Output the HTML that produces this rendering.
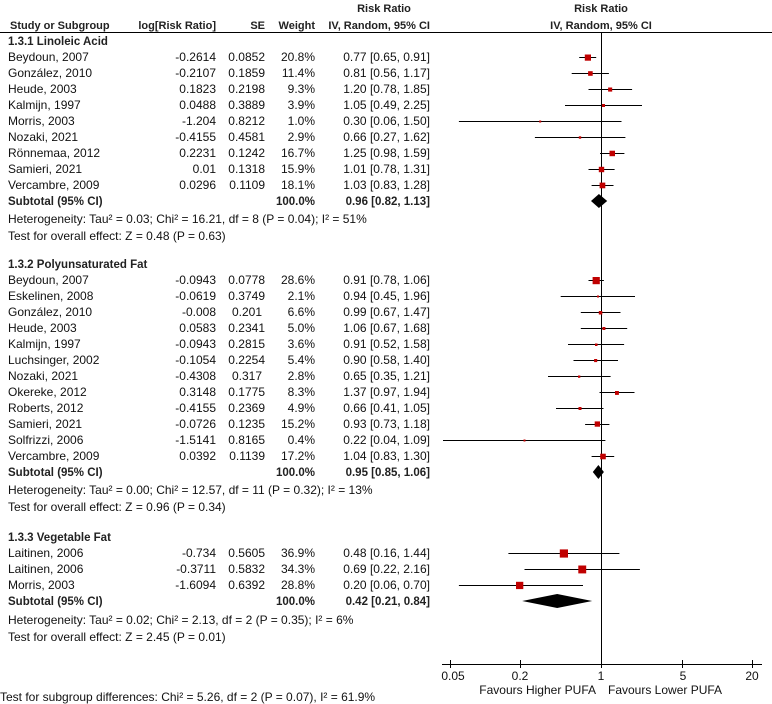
<!DOCTYPE html>
<html><head><meta charset="utf-8"><style>
html,body{margin:0;padding:0;background:#fff;}
svg{display:block;}
text{font-family:"Liberation Sans",Arial,sans-serif;font-size:12px;fill:#111;}
.b{font-weight:bold;fill:#222;font-size:11.5px;}
.h{font-size:11px;}
.r{text-anchor:end;}
.c{text-anchor:middle;}
</style></head><body>
<svg width="772" height="704" viewBox="0 0 772 704" xmlns="http://www.w3.org/2000/svg">
<!-- headers -->
<text class="b h c" x="384" y="12">Risk Ratio</text>
<text class="b h" x="10" y="29">Study or Subgroup</text>
<text class="b h r" x="216" y="29">log[Risk Ratio]</text>
<text class="b h r" x="265" y="29">SE</text>
<text class="b h r" x="315" y="29">Weight</text>
<text class="b h r" x="430" y="29">IV, Random, 95% CI</text>
<text class="b h c" x="601" y="12">Risk Ratio</text>
<text class="b h c" x="601" y="29">IV, Random, 95% CI</text>
<line x1="0" y1="32.5" x2="772" y2="32.5" stroke="#000" stroke-width="1"/>
<line x1="601.5" y1="33" x2="601.5" y2="664" stroke="#000" stroke-width="1"/>

<!-- group 1 -->
<text class="b" x="8" y="45">1.3.1 Linoleic Acid</text>
<g id="g1">
<text x="8" y="61">Beydoun, 2007</text><text class="r" x="216" y="61">-0.2614</text><text class="r" x="265" y="61">0.0852</text><text class="r" x="315" y="61">20.8%</text><text class="r" x="430" y="61">0.77 [0.65, 0.91]</text>
<text x="8" y="77">González, 2010</text><text class="r" x="216" y="77">-0.2107</text><text class="r" x="265" y="77">0.1859</text><text class="r" x="315" y="77">11.4%</text><text class="r" x="430" y="77">0.81 [0.56, 1.17]</text>
<text x="8" y="93">Heude, 2003</text><text class="r" x="216" y="93">0.1823</text><text class="r" x="265" y="93">0.2198</text><text class="r" x="315" y="93">9.3%</text><text class="r" x="430" y="93">1.20 [0.78, 1.85]</text>
<text x="8" y="109">Kalmijn, 1997</text><text class="r" x="216" y="109">0.0488</text><text class="r" x="265" y="109">0.3889</text><text class="r" x="315" y="109">3.9%</text><text class="r" x="430" y="109">1.05 [0.49, 2.25]</text>
<text x="8" y="125">Morris, 2003</text><text class="r" x="216" y="125">-1.204</text><text class="r" x="265" y="125">0.8212</text><text class="r" x="315" y="125">1.0%</text><text class="r" x="430" y="125">0.30 [0.06, 1.50]</text>
<text x="8" y="141">Nozaki, 2021</text><text class="r" x="216" y="141">-0.4155</text><text class="r" x="265" y="141">0.4581</text><text class="r" x="315" y="141">2.9%</text><text class="r" x="430" y="141">0.66 [0.27, 1.62]</text>
<text x="8" y="157">Rönnemaa, 2012</text><text class="r" x="216" y="157">0.2231</text><text class="r" x="265" y="157">0.1242</text><text class="r" x="315" y="157">16.7%</text><text class="r" x="430" y="157">1.25 [0.98, 1.59]</text>
<text x="8" y="173">Samieri, 2021</text><text class="r" x="216" y="173">0.01</text><text class="r" x="265" y="173">0.1318</text><text class="r" x="315" y="173">15.9%</text><text class="r" x="430" y="173">1.01 [0.78, 1.31]</text>
<text x="8" y="189">Vercambre, 2009</text><text class="r" x="216" y="189">0.0296</text><text class="r" x="265" y="189">0.1109</text><text class="r" x="315" y="189">18.1%</text><text class="r" x="430" y="189">1.03 [0.83, 1.28]</text>
</g>
<text class="b" x="8" y="205">Subtotal (95% CI)</text><text class="b r" x="315" y="205">100.0%</text><text class="b r" x="430" y="205">0.96 [0.82, 1.13]</text>
<text x="8" y="223">Heterogeneity: Tau² = 0.03; Chi² = 16.21, df = 8 (P = 0.04); I² = 51%</text>
<text x="8" y="240">Test for overall effect: Z = 0.48 (P = 0.63)</text>

<g stroke="#000" stroke-width="1">
<line x1="579.2" y1="57.5" x2="596.2" y2="57.5"/>
<line x1="571.7" y1="73.5" x2="608.9" y2="73.5"/>
<line x1="588.5" y1="89.5" x2="632.1" y2="89.5"/>
<line x1="565" y1="105.5" x2="642" y2="105.5"/>
<line x1="458.9" y1="121.5" x2="621.5" y2="121.5"/>
<line x1="534.9" y1="137.5" x2="625.4" y2="137.5"/>
<line x1="600" y1="153.5" x2="624.4" y2="153.5"/>
<line x1="588.5" y1="169.5" x2="614.6" y2="169.5"/>
<line x1="591.6" y1="185.5" x2="613.5" y2="185.5"/>
</g>
<g fill="#c00000">
<rect x="584.8" y="54.5" width="6.2" height="6.2"/>
<rect x="588.1" y="71.2" width="4.6" height="4.6"/>
<rect x="608.1" y="87.5" width="4.1" height="4.1"/>
<rect x="602" y="104" width="3" height="3"/>
<rect x="539.2" y="120.5" width="2" height="2"/>
<rect x="578.8" y="136.3" width="2.4" height="2.4"/>
<rect x="609.5" y="150.7" width="5.5" height="5.5"/>
<rect x="598.8" y="166.8" width="5.4" height="5.4"/>
<rect x="599.6" y="182.6" width="5.7" height="5.7"/>
</g>
<polygon points="591,201 598.9,194 607.2,201 598.9,208" fill="#000"/>

<!-- group 2 -->
<text class="b" x="8" y="268">1.3.2 Polyunsaturated Fat</text>
<text x="8" y="284">Beydoun, 2007</text><text class="r" x="216" y="284">-0.0943</text><text class="r" x="265" y="284">0.0778</text><text class="r" x="315" y="284">28.6%</text><text class="r" x="430" y="284">0.91 [0.78, 1.06]</text>
<text x="8" y="300">Eskelinen, 2008</text><text class="r" x="216" y="300">-0.0619</text><text class="r" x="265" y="300">0.3749</text><text class="r" x="315" y="300">2.1%</text><text class="r" x="430" y="300">0.94 [0.45, 1.96]</text>
<text x="8" y="316">González, 2010</text><text class="r" x="216" y="316">-0.008</text><text class="r" x="262" y="316">0.201</text><text class="r" x="315" y="316">6.6%</text><text class="r" x="430" y="316">0.99 [0.67, 1.47]</text>
<text x="8" y="332">Heude, 2003</text><text class="r" x="216" y="332">0.0583</text><text class="r" x="265" y="332">0.2341</text><text class="r" x="315" y="332">5.0%</text><text class="r" x="430" y="332">1.06 [0.67, 1.68]</text>
<text x="8" y="348">Kalmijn, 1997</text><text class="r" x="216" y="348">-0.0943</text><text class="r" x="265" y="348">0.2815</text><text class="r" x="315" y="348">3.6%</text><text class="r" x="430" y="348">0.91 [0.52, 1.58]</text>
<text x="8" y="364">Luchsinger, 2002</text><text class="r" x="216" y="364">-0.1054</text><text class="r" x="265" y="364">0.2254</text><text class="r" x="315" y="364">5.4%</text><text class="r" x="430" y="364">0.90 [0.58, 1.40]</text>
<text x="8" y="380">Nozaki, 2021</text><text class="r" x="216" y="380">-0.4308</text><text class="r" x="262" y="380">0.317</text><text class="r" x="315" y="380">2.8%</text><text class="r" x="430" y="380">0.65 [0.35, 1.21]</text>
<text x="8" y="396">Okereke, 2012</text><text class="r" x="216" y="396">0.3148</text><text class="r" x="265" y="396">0.1775</text><text class="r" x="315" y="396">8.3%</text><text class="r" x="430" y="396">1.37 [0.97, 1.94]</text>
<text x="8" y="412">Roberts, 2012</text><text class="r" x="216" y="412">-0.4155</text><text class="r" x="265" y="412">0.2369</text><text class="r" x="315" y="412">4.9%</text><text class="r" x="430" y="412">0.66 [0.41, 1.05]</text>
<text x="8" y="428">Samieri, 2021</text><text class="r" x="216" y="428">-0.0726</text><text class="r" x="265" y="428">0.1235</text><text class="r" x="315" y="428">15.2%</text><text class="r" x="430" y="428">0.93 [0.73, 1.18]</text>
<text x="8" y="444">Solfrizzi, 2006</text><text class="r" x="216" y="444">-1.5141</text><text class="r" x="265" y="444">0.8165</text><text class="r" x="315" y="444">0.4%</text><text class="r" x="430" y="444">0.22 [0.04, 1.09]</text>
<text x="8" y="460">Vercambre, 2009</text><text class="r" x="216" y="460">0.0392</text><text class="r" x="265" y="460">0.1139</text><text class="r" x="315" y="460">17.2%</text><text class="r" x="430" y="460">1.04 [0.83, 1.30]</text>
<text class="b" x="8" y="476">Subtotal (95% CI)</text><text class="b r" x="315" y="476">100.0%</text><text class="b r" x="430" y="476">0.95 [0.85, 1.06]</text>
<text x="8" y="494">Heterogeneity: Tau² = 0.00; Chi² = 12.57, df = 11 (P = 0.32); I² = 13%</text>
<text x="8" y="511">Test for overall effect: Z = 0.96 (P = 0.34)</text>

<g stroke="#000" stroke-width="1">
<line x1="588.5" y1="280.5" x2="603.9" y2="280.5"/>
<line x1="560.7" y1="296.5" x2="635" y2="296.5"/>
<line x1="580.8" y1="312.5" x2="620.5" y2="312.5"/>
<line x1="580.8" y1="328.5" x2="627.2" y2="328.5"/>
<line x1="568" y1="344.5" x2="624.1" y2="344.5"/>
<line x1="573.5" y1="360.5" x2="618" y2="360.5"/>
<line x1="548" y1="376.5" x2="610.6" y2="376.5"/>
<line x1="599.5" y1="392.5" x2="634.5" y2="392.5"/>
<line x1="556" y1="408.5" x2="603.5" y2="408.5"/>
<line x1="585.1" y1="424.5" x2="609.4" y2="424.5"/>
<line x1="443" y1="440.5" x2="605.4" y2="440.5"/>
<line x1="591.6" y1="456.5" x2="614.2" y2="456.5"/>
</g>
<g fill="#c00000">
<rect x="592.6" y="277" width="7.2" height="7.2"/>
<rect x="597" y="295.5" width="2" height="2"/>
<rect x="598.8" y="311" width="3.5" height="3.5"/>
<rect x="602.4" y="327" width="3" height="3"/>
<rect x="595" y="343.5" width="2.5" height="2.5"/>
<rect x="594.1" y="359" width="3.1" height="3.1"/>
<rect x="578" y="375.5" width="2.3" height="2.3"/>
<rect x="615" y="391" width="3.9" height="3.9"/>
<rect x="578.5" y="407" width="3" height="3"/>
<rect x="594.7" y="421.4" width="5.3" height="5.3"/>
<rect x="523.5" y="439.5" width="2" height="2"/>
<rect x="600.2" y="453.7" width="5.6" height="5.6"/>
</g>
<polygon points="592.8,472 598.4,465 603.9,472 598.4,479" fill="#000"/>

<!-- group 3 -->
<text class="b" x="8" y="541">1.3.3 Vegetable Fat</text>
<text x="8" y="557">Laitinen, 2006</text><text class="r" x="216" y="557">-0.734</text><text class="r" x="265" y="557">0.5605</text><text class="r" x="315" y="557">36.9%</text><text class="r" x="430" y="557">0.48 [0.16, 1.44]</text>
<text x="8" y="573">Laitinen, 2006</text><text class="r" x="216" y="573">-0.3711</text><text class="r" x="265" y="573">0.5832</text><text class="r" x="315" y="573">34.3%</text><text class="r" x="430" y="573">0.69 [0.22, 2.16]</text>
<text x="8" y="589">Morris, 2003</text><text class="r" x="216" y="589">-1.6094</text><text class="r" x="265" y="589">0.6392</text><text class="r" x="315" y="589">28.8%</text><text class="r" x="430" y="589">0.20 [0.06, 0.70]</text>
<text class="b" x="8" y="605">Subtotal (95% CI)</text><text class="b r" x="315" y="605">100.0%</text><text class="b r" x="430" y="605">0.42 [0.21, 0.84]</text>
<text x="8" y="624">Heterogeneity: Tau² = 0.02; Chi² = 2.13, df = 2 (P = 0.35); I² = 6%</text>
<text x="8" y="641">Test for overall effect: Z = 2.45 (P = 0.01)</text>

<g stroke="#000" stroke-width="1">
<line x1="508.4" y1="553.5" x2="619.4" y2="553.5"/>
<line x1="524.5" y1="569.5" x2="639.9" y2="569.5"/>
<line x1="458.9" y1="585.5" x2="583" y2="585.5"/>
</g>
<g fill="#c00000">
<rect x="559.8" y="549.4" width="8.2" height="8.2"/>
<rect x="578.3" y="565.5" width="7.9" height="7.9"/>
<rect x="516" y="581.8" width="7.3" height="7.3"/>
</g>
<polygon points="522.2,601 557.2,594 592.2,601 557.2,608" fill="#000"/>

<!-- axis -->
<g stroke="#000" stroke-width="1">
<line x1="442" y1="664.5" x2="762" y2="664.5"/>
<line x1="450.5" y1="660" x2="450.5" y2="668"/>
<line x1="520.5" y1="660" x2="520.5" y2="668"/>
<line x1="682.5" y1="660" x2="682.5" y2="668"/>
<line x1="752.5" y1="660" x2="752.5" y2="668"/>
<line x1="601.5" y1="664" x2="601.5" y2="668"/>
</g>
<text class="c" x="453" y="680">0.05</text>
<text class="c" x="520" y="680">0.2</text>
<text class="c" x="601" y="680">1</text>
<text class="c" x="683" y="680">5</text>
<text class="c" x="752" y="680">20</text>
<text class="r" x="596" y="694">Favours Higher PUFA</text>
<text x="608" y="694">Favours Lower PUFA</text>

<text x="0" y="701">Test for subgroup differences: Chi² = 5.26, df = 2 (P = 0.07), I² = 61.9%</text>
</svg>
</body></html>
